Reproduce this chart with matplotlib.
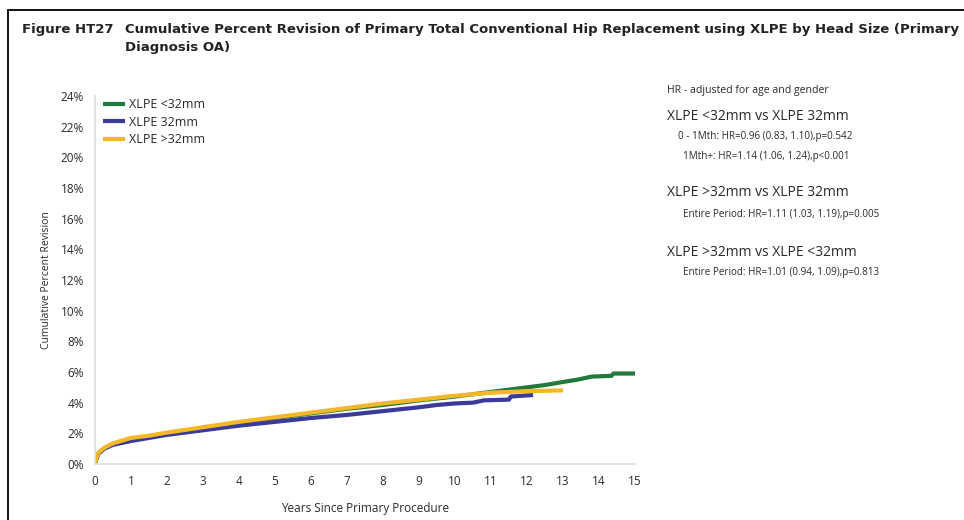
import matplotlib
matplotlib.use("Agg")
import matplotlib.pyplot as plt
from matplotlib.patches import Rectangle

# cumulative percent revision by head size (years, %)
yrs_lt32 = [0, 0.05, 0.1, 0.25, 0.5, 1, 2, 3, 4, 5, 6, 7, 8, 9, 10, 11, 11.5, 12,
            12.5, 13, 13.4, 13.8, 14.35, 14.4, 15]
cpr_lt32 = [0, 0.45, 0.7, 1.0, 1.3, 1.6, 1.95, 2.3, 2.65, 3.0, 3.3, 3.6, 3.85, 4.15,
            4.4, 4.7, 4.85, 5.0, 5.15, 5.35, 5.5, 5.7, 5.75, 5.9, 5.9]

yrs_32 = [0, 0.05, 0.1, 0.25, 0.5, 1, 1.5, 2, 3, 4, 5, 6, 7, 8, 9, 9.5, 10, 10.5,
          10.8, 11.5, 11.55, 12.17]
cpr_32 = [0, 0.45, 0.7, 1.0, 1.25, 1.5, 1.7, 1.9, 2.2, 2.5, 2.75, 3.0, 3.2, 3.45,
          3.7, 3.85, 3.95, 4.0, 4.15, 4.2, 4.4, 4.5]

yrs_gt32 = [0, 0.05, 0.1, 0.25, 0.5, 1, 1.5, 2, 3, 4, 5, 6, 7, 8, 9, 10, 11, 12, 13]
cpr_gt32 = [0, 0.5, 0.75, 1.05, 1.35, 1.7, 1.85, 2.05, 2.4, 2.75, 3.05, 3.35, 3.65,
            3.95, 4.2, 4.45, 4.65, 4.75, 4.8]

series = [
    ("XLPE <32mm", yrs_lt32, cpr_lt32, "#217a3c"),
    ("XLPE 32mm", yrs_32, cpr_32, "#3a3a98"),
    ("XLPE >32mm", yrs_gt32, cpr_gt32, "#f3b82a"),
]

x_ticks = list(range(0, 16))
y_ticks = list(range(0, 25, 2))

hr_notes = [
    ("HR - adjusted for age and gender", 0, 7.6),
    ("XLPE <32mm vs XLPE 32mm", 0, 10),
    ("0 - 1Mth: HR=0.96 (0.83, 1.10),p=0.542", 11, 7.1),
    ("1Mth+: HR=1.14 (1.06, 1.24),p<0.001", 16, 7.1),
    ("XLPE >32mm vs XLPE 32mm", 0, 10),
    ("Entire Period: HR=1.11 (1.03, 1.19),p=0.005", 16, 7.1),
    ("XLPE >32mm vs XLPE <32mm", 0, 10),
    ("Entire Period: HR=1.01 (0.94, 1.09),p=0.813", 16, 7.1),
]
note_y = [90, 116, 136, 157, 193, 215, 253, 272]

plt.rcParams["font.family"] = ["Open Sans", "DejaVu Sans"]

W, H = 964, 520
fig = plt.figure(figsize=(W / 100, H / 100), dpi=100)
fig.patches.append(Rectangle((8 / W, -0.1), 1.2, 1 - 10 / H + 0.1, transform=fig.transFigure,
                             fill=False, edgecolor="#111111", linewidth=1.4))

ax = fig.add_axes([95 / W, 1 - 464 / H, (635 - 95) / W, (464 - 96) / H])
for name, xs, ys, col in series:
    ax.plot(xs, ys, color=col, linewidth=3, label=name, solid_capstyle="butt")

ax.set_xlim(0, 15)
ax.set_ylim(0, 24)
ax.set_xticks(x_ticks)
ax.set_yticks(y_ticks)
ax.set_yticklabels([f"{v}%" for v in y_ticks])
ax.tick_params(length=0, labelsize=8.5, colors="#2a2a2a", pad=8)
for s in ["top", "right"]:
    ax.spines[s].set_visible(False)
for s in ["left", "bottom"]:
    ax.spines[s].set_color("#dddddd")
    ax.spines[s].set_linewidth(1.2)

ax.set_xlabel("Years Since Primary Procedure", fontsize=8.5, color="#2a2a2a", labelpad=10)
ax.set_ylabel("Cumulative Percent Revision", fontsize=7.5, color="#2a2a2a", labelpad=6)

leg = ax.legend(loc="upper left", bbox_to_anchor=(-0.002, 1.017), frameon=False, fontsize=9,
                handlelength=1.8, handletextpad=0.3, labelspacing=0.35, borderaxespad=0.3)
for t in leg.get_texts():
    t.set_color("#2a2a2a")

title_font = ["DejaVu Sans"]
fig.text(22 / W, 1 - 30 / H, "Figure HT27", fontsize=9.5, fontweight="bold",
         color="#222222", va="center", family=title_font)
fig.text(125 / W, 1 - 30 / H,
         "Cumulative Percent Revision of Primary Total Conventional Hip Replacement using XLPE by Head Size (Primary",
         fontsize=9.5, fontweight="bold", color="#222222", va="center", family=title_font)
fig.text(125 / W, 1 - 47 / H, "Diagnosis OA)", fontsize=9.5, fontweight="bold",
         color="#222222", va="center", family=title_font)

for (txt, dx, fs), y in zip(hr_notes, note_y):
    fig.text((667 + dx) / W, 1 - y / H, txt, fontsize=fs, color="#2a2a2a", va="center")

fig.savefig("out.png", dpi=100, facecolor="white")
